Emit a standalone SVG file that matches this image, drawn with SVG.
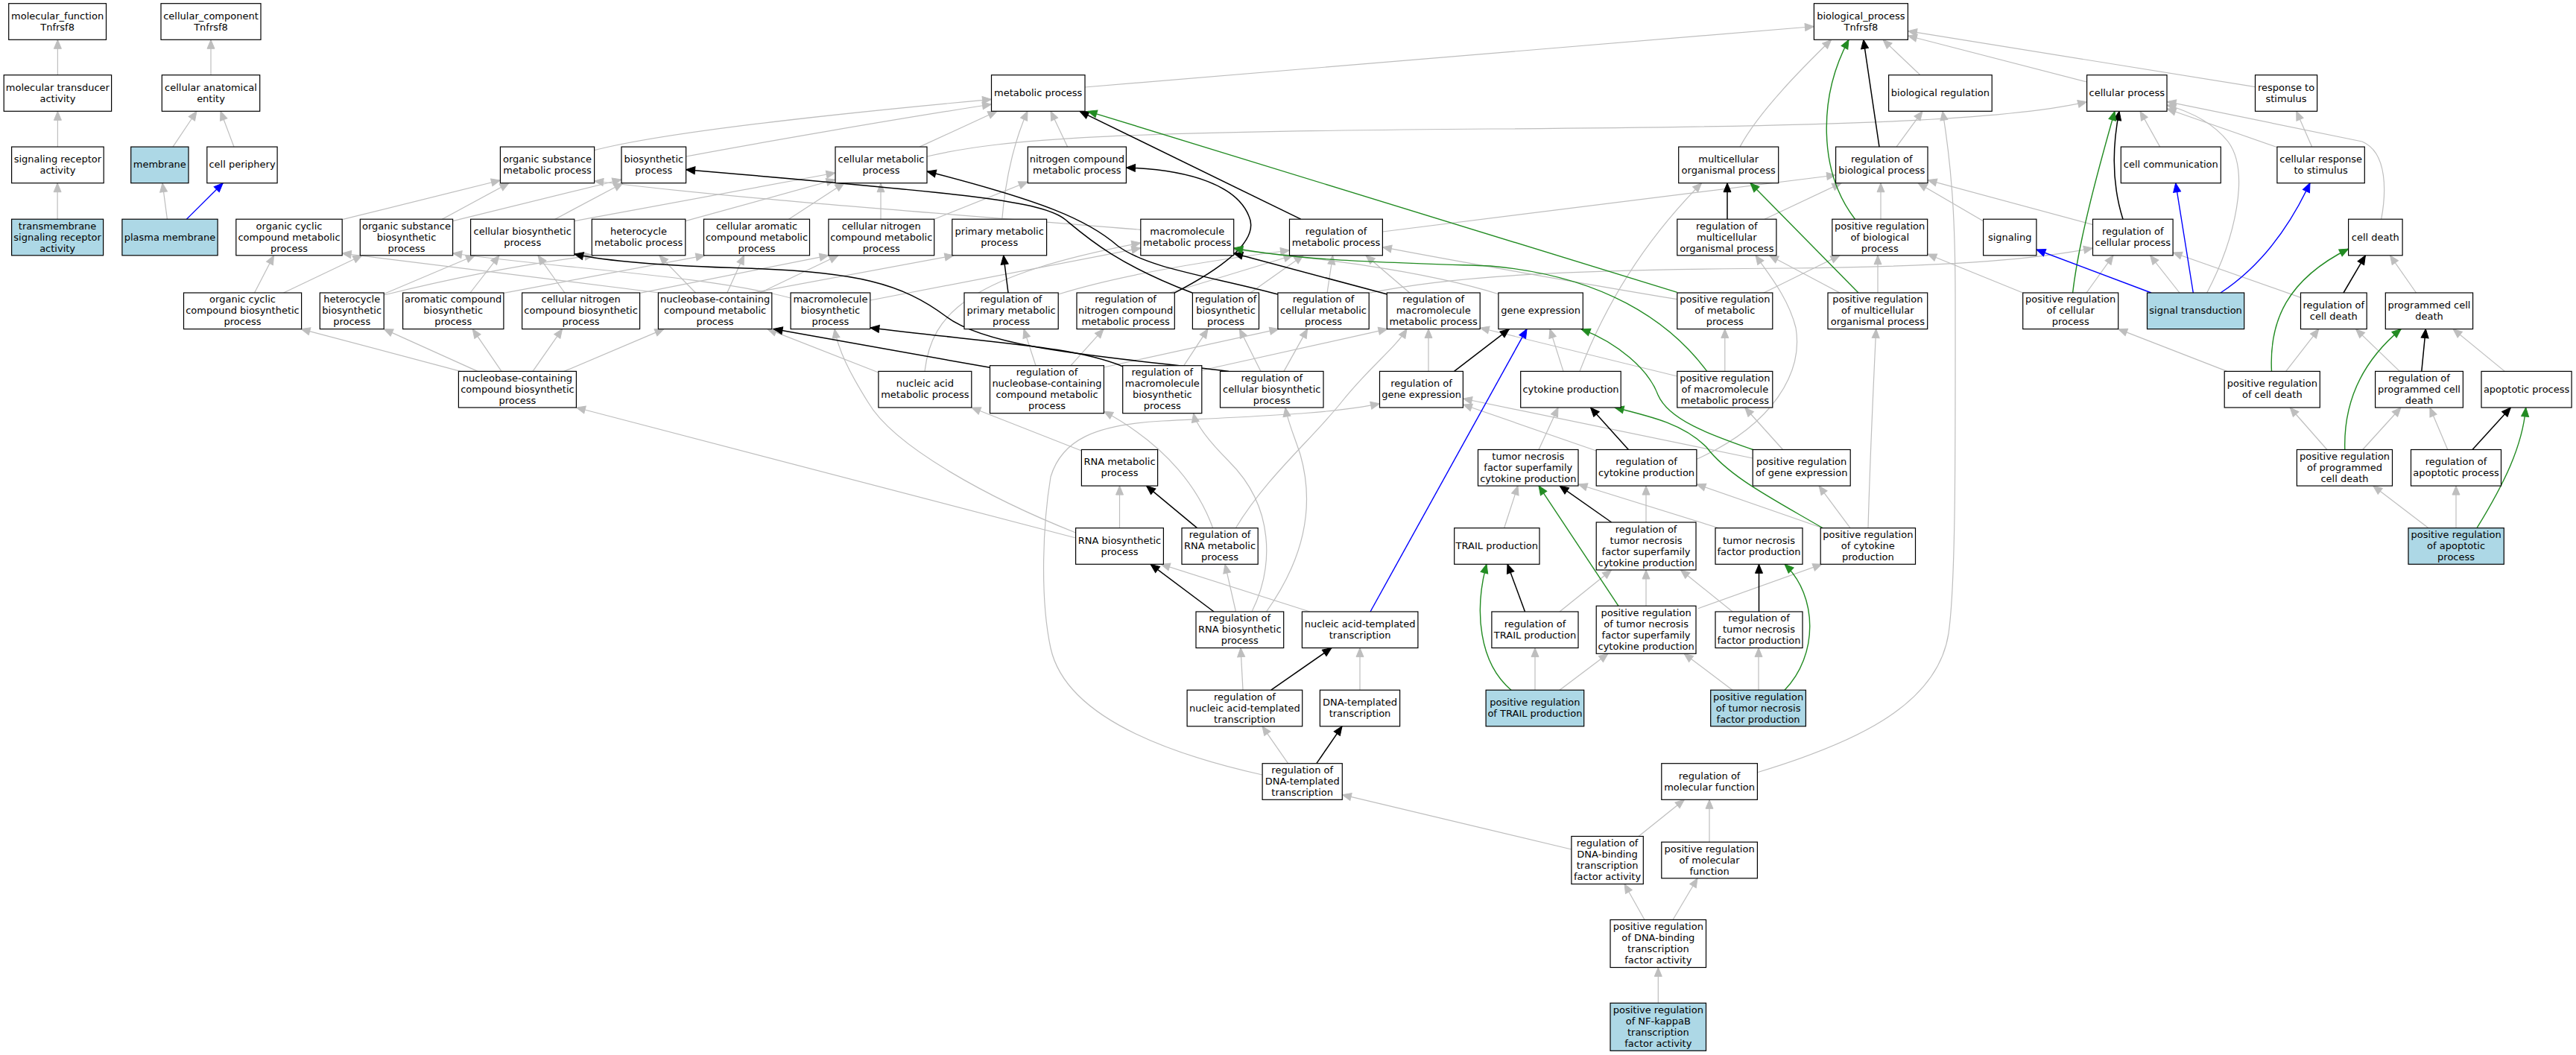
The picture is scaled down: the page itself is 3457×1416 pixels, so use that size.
<svg xmlns="http://www.w3.org/2000/svg" width="3457" height="1416" viewBox="0 0 3457 1416">
<style>
rect{fill:#fff;stroke:#000;stroke-width:1.2}
.b rect{fill:#add8e6}
text{font-family:"DejaVu Sans","Liberation Sans",sans-serif;font-size:13px;text-anchor:middle;fill:#000}
#edges path{fill:none}
.g{stroke:#bebebe;stroke-width:1.2;marker-end:url(#ag)}
.k{stroke:#000;stroke-width:1.5;marker-end:url(#ak)}
.v{stroke:#228b22;stroke-width:1.4;marker-end:url(#av)}
.u{stroke:#0000ff;stroke-width:1.4;marker-end:url(#au)}
</style>
<defs>
<marker id="ag" viewBox="-1 -1 14 12" refX="12" refY="5" markerWidth="14" markerHeight="12" markerUnits="userSpaceOnUse" orient="auto"><path d="M0,0L12,5L0,10z" fill="#bebebe" stroke="#bebebe" stroke-width="1"/></marker>
<marker id="ak" viewBox="-1 -1 14 12" refX="12" refY="5" markerWidth="14" markerHeight="12" markerUnits="userSpaceOnUse" orient="auto"><path d="M0,0L12,5L0,10z" fill="#000" stroke="#000" stroke-width="1"/></marker>
<marker id="av" viewBox="-1 -1 14 12" refX="12" refY="5" markerWidth="14" markerHeight="12" markerUnits="userSpaceOnUse" orient="auto"><path d="M0,0L12,5L0,10z" fill="#228b22" stroke="#228b22" stroke-width="1"/></marker>
<marker id="au" viewBox="-1 -1 14 12" refX="12" refY="5" markerWidth="14" markerHeight="12" markerUnits="userSpaceOnUse" orient="auto"><path d="M0,0L12,5L0,10z" fill="#0000ff" stroke="#0000ff" stroke-width="1"/></marker>
</defs>
<rect x="0" y="0" width="3457" height="1416" style="fill:#fff;stroke:none"/>
<g id="edges">
<path class="g" d="M77.4,100.7L77.4,53.3"/>
<path class="g" d="M77.4,197.1L77.4,149.3"/>
<path class="g" d="M77.1,294.2L77.1,245.7"/>
<path class="g" d="M283,100.7L283,53.3"/>
<path class="g" d="M232,197.1L264,149.3"/>
<path class="g" d="M314,197.1L296,149.3"/>
<path class="g" d="M224.4,294.2L218,245.7"/>
<path class="g" d="M1456,117L2434.4,35.5"/>
<path class="g" d="M797.6,201.7C900,175 1150,150 1330.5,133.3"/>
<path class="g" d="M920.6,210C1000,195 1200,160 1330.5,140"/>
<path class="g" d="M1234,197.1L1338,149.3"/>
<path class="g" d="M1344.8,294.2C1350,230 1365,180 1379,149.3"/>
<path class="g" d="M1432.6,197.1L1410,149.3"/>
<path class="g" d="M1244,210C1350,185 1500,177 2000,173C2500,170 2700,160 2800.6,136.7"/>
<path class="g" d="M459.2,294.7L671.4,242"/>
<path class="g" d="M593.3,294.2L683,245.7"/>
<path class="g" d="M607.6,296.7L834,241"/>
<path class="g" d="M744.8,294.2L836,245.7"/>
<path class="g" d="M770.8,296.7L1121,232"/>
<path class="g" d="M919.8,296.7L1121,241"/>
<path class="g" d="M1058.5,294.2L1133,245.7"/>
<path class="g" d="M1182,294.2L1182,245.7"/>
<path class="g" d="M1253.7,294.2L1379.3,244"/>
<path class="g" d="M1530.8,308.3C1250,285 1000,268 797.6,243"/>
<path class="g" d="M1855.4,311L2463.6,235"/>
<path class="g" d="M2577,100.7L2527,53.3"/>
<path class="g" d="M2800.6,110L2560.4,48"/>
<path class="g" d="M3026.5,116.6L2560.4,41.7"/>
<path class="g" d="M2335,197.1C2360,150 2420,90 2457.6,53.3"/>
<path class="g" d="M2545,197.1L2580,149.3"/>
<path class="g" d="M2524,294.2L2524,245.7"/>
<path class="g" d="M2368,294.2L2471,245.7"/>
<path class="g" d="M2661.6,296.7L2574,245.7"/>
<path class="g" d="M2809,301.7L2587,241.7"/>
<path class="g" d="M2898.7,197.1L2872,149.3"/>
<path class="g" d="M3102.6,197.1L3081.7,149.3"/>
<path class="g" d="M3056,197.7L2908,146"/>
<path class="g" d="M3195.7,294.2C3202,260 3205,205 3170,190L2908,136.4"/>
<path class="g" d="M2961.7,393C3000,320 3020,230 2990,190C2970,165 2940,150 2908,141"/>
<path class="g" d="M2925,393L2885.5,342.8"/>
<path class="g" d="M3087.5,399.4L2916.1,339"/>
<path class="g" d="M3242.5,393L3207.5,342.8"/>
<path class="g" d="M2714.7,393L2586.7,341"/>
<path class="g" d="M2800,393L2836,342.8"/>
<path class="g" d="M2469,393L2374.4,342.8"/>
<path class="g" d="M2520,393L2520,342.8"/>
<path class="g" d="M2367,393L2469,342.8"/>
<path class="g" d="M2250.8,401.7C2150,385 1950,350 1855.4,331.7"/>
<path class="g" d="M1837.2,393.3C1950,370 2100,362 2400,360C2600,358 2720,350 2808.5,333"/>
<path class="g" d="M2012,395C1900,360 1750,345 1655.7,335"/>
<path class="g" d="M1420.2,395C1500,370 1620,350 1730.5,336"/>
<path class="g" d="M1570,393L1735,342.8"/>
<path class="g" d="M1678,393L1749,342.8"/>
<path class="g" d="M1781,393.3L1788.6,342.8"/>
<path class="g" d="M1892,393.3L1833,342.8"/>
<path class="g" d="M1168,403L1530.8,333"/>
<path class="g" d="M1241,498.4C1250,420 1300,370 1530.8,326"/>
<path class="g" d="M1179,500L1030,441.6"/>
<path class="g" d="M1010,393L1280,342.8"/>
<path class="g" d="M1020,393L1125,342.8"/>
<path class="g" d="M858.6,393.3L1112,342.8"/>
<path class="g" d="M975.8,393L998.5,342.8"/>
<path class="g" d="M933.5,393L884.7,342.8"/>
<path class="g" d="M884.7,393L459.2,340"/>
<path class="g" d="M341.5,393L367.5,342.8"/>
<path class="g" d="M380.5,393L486,342.8"/>
<path class="g" d="M514,395L637.5,342.8"/>
<path class="g" d="M515.2,396C620,370 720,352 797,342.8"/>
<path class="g" d="M631,393L670,342.8"/>
<path class="g" d="M675.9,393.3L946,342.8"/>
<path class="g" d="M757.8,393L722,342.8"/>
<path class="g" d="M1061,400C950,370 750,360 607.6,340"/>
<path class="g" d="M618,498.4L404,441.6"/>
<path class="g" d="M641,498.4L515.2,441.6"/>
<path class="g" d="M673,498.4L634.2,441.6"/>
<path class="g" d="M715,498.4L754.6,441.6"/>
<path class="g" d="M757,498.4L891,441.6"/>
<path class="g" d="M1443.6,722L773.4,547"/>
<path class="g" d="M1443.6,715C1330,670 1200,600 1165,540C1140,500 1125,470 1120,441.6"/>
<path class="g" d="M1451.4,605L1303.8,547"/>
<path class="g" d="M1502.5,708.7L1502.5,652.1"/>
<path class="g" d="M1627.7,708.7C1610,660 1570,600 1481.4,552"/>
<path class="g" d="M1658.3,708.7C1700,640 1760,590 1800,540C1840,490 1870,470 1888,441.6"/>
<path class="g" d="M1658.5,821L1644,757.3"/>
<path class="g" d="M1680,821C1710,760 1710,680 1650,620C1620,590 1605,570 1601.7,554.7"/>
<path class="g" d="M1699.5,821C1750,750 1765,680 1745,610C1735,580 1728,565 1725,547"/>
<path class="g" d="M1757.8,821L1558,757.3"/>
<path class="g" d="M1668,926.2L1665,869.6"/>
<path class="g" d="M1825,926.2L1825,869.6"/>
<path class="g" d="M1728.6,1024.7L1694,974.8"/>
<path class="g" d="M1694,1040C1560,1010 1430,960 1410,870C1395,800 1400,700 1410,640C1425,590 1470,570 1560,565C1700,558 1790,555 1851.5,541.7"/>
<path class="g" d="M2108.9,1140L1801.3,1066.7"/>
<path class="g" d="M2199,1122.5L2260.4,1073.3"/>
<path class="g" d="M2294,1130.2L2294,1073.3"/>
<path class="g" d="M2207,1234.5L2180,1186.5"/>
<path class="g" d="M2245,1234.5L2278,1178.8"/>
<path class="g" d="M2225.3,1346.3L2225.3,1298.5"/>
<path class="g" d="M2358.4,1036.7C2480,1000 2600,950 2615,850C2625,780 2624,600 2624,400C2624,300 2620,230 2607,149.3"/>
<path class="g" d="M1917,498.4L1917,441.6"/>
<path class="g" d="M1390,490.7L1374,441.6"/>
<path class="g" d="M1437,490.7L1481,441.6"/>
<path class="g" d="M1481.4,493L1716,441.6"/>
<path class="g" d="M1588.8,490.7L1621,441.6"/>
<path class="g" d="M1612.8,497L1862,441.6"/>
<path class="g" d="M1692,498.4L1663.5,441.6"/>
<path class="g" d="M1723,498.4L1754.6,441.6"/>
<path class="g" d="M2098,498.4L2080,441.6"/>
<path class="g" d="M2120,498.4C2150,420 2200,330 2283.6,245.7"/>
<path class="g" d="M2314.8,498.4L2314.8,441.6"/>
<path class="g" d="M2250.8,505L1986.2,440"/>
<path class="g" d="M2065,603.5L2091,547"/>
<path class="g" d="M2142.2,605L1963.4,543"/>
<path class="g" d="M2276,616.7C2380,570 2420,500 2410,440C2400,400 2375,370 2356,342.8"/>
<path class="g" d="M2352.2,615L1963.4,535"/>
<path class="g" d="M2392.6,603.5L2341.7,547"/>
<path class="g" d="M2209,701L2209,652.1"/>
<path class="g" d="M2018.6,708.7L2037,652.1"/>
<path class="g" d="M2306.6,708.7L2118,650"/>
<path class="g" d="M2446,708.7L2276.9,650"/>
<path class="g" d="M2483,708.7L2441,652.1"/>
<path class="g" d="M2507,708.7C2510,600 2515,500 2517.7,441.6"/>
<path class="g" d="M2093,821L2162.6,765"/>
<path class="g" d="M2209,813.3L2209,765"/>
<path class="g" d="M2278.8,816.7L2445,757.3"/>
<path class="g" d="M2325,821L2255.5,765"/>
<path class="g" d="M2060,926.2L2060,869.6"/>
<path class="g" d="M2093,926.2L2158,877.3"/>
<path class="g" d="M2360,926.2L2360,869.6"/>
<path class="g" d="M2325,926.2L2260,877.3"/>
<path class="g" d="M2988.8,498.4L2842.7,441.6"/>
<path class="g" d="M3067.7,498.4L3111.8,441.6"/>
<path class="g" d="M3220.4,498.4L3161.5,441.6"/>
<path class="g" d="M3361.3,498.4L3292,441.6"/>
<path class="g" d="M3122.9,603.5L3073.2,547"/>
<path class="g" d="M3170.7,603.5L3222,547"/>
<path class="g" d="M3284.8,603.5L3260.9,547"/>
<path class="g" d="M3259,708.7L3184.7,652.1"/>
<path class="g" d="M3296,708.7L3296,652.1"/>
<path class="k" d="M2522,197.1L2500.8,53.3"/>
<path class="k" d="M2318,294.2L2318,245.7"/>
<path class="k" d="M2849,294.2C2835,250 2834,200 2844,149.3"/>
<path class="k" d="M3145,393L3174.4,342.8"/>
<path class="k" d="M1745.7,294.2L1449,149.3"/>
<path class="k" d="M1353,393L1346.7,342.8"/>
<path class="k" d="M1575.7,393.3C1650,355 1690,320 1676,290C1660,250 1600,228 1511.4,225"/>
<path class="k" d="M1600,393C1500,355 1460,320 1430,295C1400,270 1300,260 920.6,227.7"/>
<path class="k" d="M1714.9,395C1620,370 1540,360 1500,330C1460,295 1400,270 1244,230"/>
<path class="k" d="M1861.8,395L1655.7,340"/>
<path class="k" d="M1328.5,493.3L1038,441.6"/>
<path class="k" d="M1506.7,491.7C1440,465 1350,462 1167.8,440"/>
<path class="k" d="M1649,498.4C1500,480 1330,470 1270,425C1210,380 1150,365 1000,360C900,357 820,352 770.8,341"/>
<path class="k" d="M1951.5,498.4L2025.4,441.6"/>
<path class="k" d="M2185.4,603.5L2134.5,547"/>
<path class="k" d="M1629,821L1544,757.3"/>
<path class="k" d="M1606.5,708.7L1538.5,652.1"/>
<path class="k" d="M1705.8,926.2L1787,869.6"/>
<path class="k" d="M1766.8,1024.7L1801,974.8"/>
<path class="k" d="M2162.6,701L2093,652.1"/>
<path class="k" d="M2046.5,821L2023,757.3"/>
<path class="k" d="M2360.5,821L2360.5,757.3"/>
<path class="k" d="M3249.8,498.4L3255.3,441.6"/>
<path class="k" d="M3318,603.5L3369.4,547"/>
<path class="v" d="M2250.8,392.3L1460,149.3"/>
<path class="v" d="M2489.5,294.2C2440,230 2440,130 2481,53.3"/>
<path class="v" d="M2781.6,393C2790,320 2818,220 2838,149.3"/>
<path class="v" d="M2494,393L2349,245.7"/>
<path class="v" d="M2290.8,498.4C2240,430 2150,370 2000,357C1850,352 1750,350 1655.7,333"/>
<path class="v" d="M2352.6,603.5C2300,585 2240,565 2225,530C2212,495 2170,460 2122,441.6"/>
<path class="v" d="M2446,708.7C2380,670 2320,640 2290,600C2260,570 2220,560 2167,547"/>
<path class="v" d="M2172,813.3L2065,652.1"/>
<path class="v" d="M2028,926.2C1985,890 1978,820 1995,757.3"/>
<path class="v" d="M2395,926.2C2440,880 2440,800 2395,757.3"/>
<path class="v" d="M3048.5,498.4C3045,430 3070,375 3151.6,334"/>
<path class="v" d="M3146.8,603.5C3145,540 3170,485 3222.2,441.6"/>
<path class="v" d="M3324,708.7C3360,650 3385,600 3389.7,547"/>
<path class="u" d="M250.4,294.2L299.2,245.7"/>
<path class="u" d="M2943.3,393L2919.7,245.7"/>
<path class="u" d="M2980,393C3030,360 3070,310 3100,245.7"/>
<path class="u" d="M2887,393L2732.9,335"/>
<path class="u" d="M1839,821L2049,441.6"/>
</g>
<g id="n1"><rect x="11.7" y="4.7" width="130.8" height="48.6"/><text x="77.1" y="25.5"><tspan x="77.1">molecular_function</tspan><tspan x="77.1" dy="15">Tnfrsf8</tspan></text></g>
<g id="n2"><rect x="216" y="4.7" width="134" height="48.6"/><text x="283" y="25.5"><tspan x="283">cellular_component</tspan><tspan x="283" dy="15">Tnfrsf8</tspan></text></g>
<g id="n3"><rect x="2434.4" y="4.7" width="126" height="48.6"/><text x="2497.4" y="25.5"><tspan x="2497.4">biological_process</tspan><tspan x="2497.4" dy="15">Tnfrsf8</tspan></text></g>
<g id="n4"><rect x="5.2" y="100.7" width="144.4" height="48.6"/><text x="77.4" y="121.5"><tspan x="77.4">molecular transducer</tspan><tspan x="77.4" dy="15">activity</tspan></text></g>
<g id="n5"><rect x="217.3" y="100.7" width="131.4" height="48.6"/><text x="283" y="121.5"><tspan x="283">cellular anatomical</tspan><tspan x="283" dy="15">entity</tspan></text></g>
<g id="n6"><rect x="1330.5" y="100.7" width="125.5" height="48.6"/><text x="1393.2" y="129">metabolic process</text></g>
<g id="n7"><rect x="2534.6" y="100.7" width="138.6" height="48.6"/><text x="2603.9" y="129">biological regulation</text></g>
<g id="n8"><rect x="2800.6" y="100.7" width="107.4" height="48.6"/><text x="2854.3" y="129">cellular process</text></g>
<g id="n9"><rect x="3026.5" y="100.7" width="83.1" height="48.6"/><text x="3068" y="121.5"><tspan x="3068">response to</tspan><tspan x="3068" dy="15">stimulus</tspan></text></g>
<g id="n10"><rect x="15.6" y="197.1" width="123.6" height="48.6"/><text x="77.4" y="217.9"><tspan x="77.4">signaling receptor</tspan><tspan x="77.4" dy="15">activity</tspan></text></g>
<g id="n11" class="b"><rect x="175.7" y="197.1" width="77.3" height="48.6"/><text x="214.3" y="225.4">membrane</text></g>
<g id="n12"><rect x="277.8" y="197.1" width="94.3" height="48.6"/><text x="325" y="225.4">cell periphery</text></g>
<g id="n13"><rect x="671.4" y="197.1" width="126.2" height="48.6"/><text x="734.5" y="217.9"><tspan x="734.5">organic substance</tspan><tspan x="734.5" dy="15">metabolic process</tspan></text></g>
<g id="n14"><rect x="834" y="197.1" width="86.6" height="48.6"/><text x="877.3" y="217.9"><tspan x="877.3">biosynthetic</tspan><tspan x="877.3" dy="15">process</tspan></text></g>
<g id="n15"><rect x="1121" y="197.1" width="123" height="48.6"/><text x="1182.5" y="217.9"><tspan x="1182.5">cellular metabolic</tspan><tspan x="1182.5" dy="15">process</tspan></text></g>
<g id="n16"><rect x="1379.3" y="197.1" width="132.1" height="48.6"/><text x="1445.3" y="217.9"><tspan x="1445.3">nitrogen compound</tspan><tspan x="1445.3" dy="15">metabolic process</tspan></text></g>
<g id="n17"><rect x="2252.7" y="197.1" width="134" height="48.6"/><text x="2319.7" y="217.9"><tspan x="2319.7">multicellular</tspan><tspan x="2319.7" dy="15">organismal process</tspan></text></g>
<g id="n18"><rect x="2463.6" y="197.1" width="123.4" height="48.6"/><text x="2525.3" y="217.9"><tspan x="2525.3">regulation of</tspan><tspan x="2525.3" dy="15">biological process</tspan></text></g>
<g id="n19"><rect x="2846.3" y="197.1" width="134" height="48.6"/><text x="2913.3" y="225.4">cell communication</text></g>
<g id="n20"><rect x="3055.9" y="197.1" width="117.4" height="48.6"/><text x="3114.6" y="217.9"><tspan x="3114.6">cellular response</tspan><tspan x="3114.6" dy="15">to stimulus</tspan></text></g>
<g id="n21" class="b"><rect x="15.6" y="294.2" width="123" height="48.6"/><text x="77.1" y="307.5"><tspan x="77.1">transmembrane</tspan><tspan x="77.1" dy="15">signaling receptor</tspan><tspan x="77.1" dy="15">activity</tspan></text></g>
<g id="n22" class="b"><rect x="163.9" y="294.2" width="128.2" height="48.6"/><text x="228" y="322.5">plasma membrane</text></g>
<g id="n23"><rect x="316.8" y="294.2" width="142.4" height="48.6"/><text x="388" y="307.5"><tspan x="388">organic cyclic</tspan><tspan x="388" dy="15">compound metabolic</tspan><tspan x="388" dy="15">process</tspan></text></g>
<g id="n24"><rect x="483.3" y="294.2" width="124.3" height="48.6"/><text x="545.5" y="307.5"><tspan x="545.5">organic substance</tspan><tspan x="545.5" dy="15">biosynthetic</tspan><tspan x="545.5" dy="15">process</tspan></text></g>
<g id="n25"><rect x="631.6" y="294.2" width="139.2" height="48.6"/><text x="701.2" y="315"><tspan x="701.2">cellular biosynthetic</tspan><tspan x="701.2" dy="15">process</tspan></text></g>
<g id="n26"><rect x="794.3" y="294.2" width="125.5" height="48.6"/><text x="857" y="315"><tspan x="857">heterocycle</tspan><tspan x="857" dy="15">metabolic process</tspan></text></g>
<g id="n27"><rect x="944.5" y="294.2" width="142" height="48.6"/><text x="1015.5" y="307.5"><tspan x="1015.5">cellular aromatic</tspan><tspan x="1015.5" dy="15">compound metabolic</tspan><tspan x="1015.5" dy="15">process</tspan></text></g>
<g id="n28"><rect x="1111.9" y="294.2" width="141.8" height="48.6"/><text x="1182.8" y="307.5"><tspan x="1182.8">cellular nitrogen</tspan><tspan x="1182.8" dy="15">compound metabolic</tspan><tspan x="1182.8" dy="15">process</tspan></text></g>
<g id="n29"><rect x="1277.8" y="294.2" width="126.8" height="48.6"/><text x="1341.2" y="315"><tspan x="1341.2">primary metabolic</tspan><tspan x="1341.2" dy="15">process</tspan></text></g>
<g id="n30"><rect x="1530.8" y="294.2" width="124.9" height="48.6"/><text x="1593.2" y="315"><tspan x="1593.2">macromolecule</tspan><tspan x="1593.2" dy="15">metabolic process</tspan></text></g>
<g id="n31"><rect x="1730.5" y="294.2" width="124.9" height="48.6"/><text x="1793" y="315"><tspan x="1793">regulation of</tspan><tspan x="1793" dy="15">metabolic process</tspan></text></g>
<g id="n32"><rect x="2250.8" y="294.2" width="133.1" height="48.6"/><text x="2317.3" y="307.5"><tspan x="2317.3">regulation of</tspan><tspan x="2317.3" dy="15">multicellular</tspan><tspan x="2317.3" dy="15">organismal process</tspan></text></g>
<g id="n33"><rect x="2458.8" y="294.2" width="127.9" height="48.6"/><text x="2522.7" y="307.5"><tspan x="2522.7">positive regulation</tspan><tspan x="2522.7" dy="15">of biological</tspan><tspan x="2522.7" dy="15">process</tspan></text></g>
<g id="n34"><rect x="2661.6" y="294.2" width="71.3" height="48.6"/><text x="2697.2" y="322.5">signaling</text></g>
<g id="n35"><rect x="2808.5" y="294.2" width="107.6" height="48.6"/><text x="2862.3" y="315"><tspan x="2862.3">regulation of</tspan><tspan x="2862.3" dy="15">cellular process</tspan></text></g>
<g id="n36"><rect x="3151.6" y="294.2" width="72.5" height="48.6"/><text x="3187.8" y="322.5">cell death</text></g>
<g id="n37"><rect x="246.5" y="393" width="158.1" height="48.6"/><text x="325.5" y="406.3"><tspan x="325.5">organic cyclic</tspan><tspan x="325.5" dy="15">compound biosynthetic</tspan><tspan x="325.5" dy="15">process</tspan></text></g>
<g id="n38"><rect x="429.3" y="393" width="85.9" height="48.6"/><text x="472.2" y="406.3"><tspan x="472.2">heterocycle</tspan><tspan x="472.2" dy="15">biosynthetic</tspan><tspan x="472.2" dy="15">process</tspan></text></g>
<g id="n39"><rect x="540.6" y="393" width="135.3" height="48.6"/><text x="608.2" y="406.3"><tspan x="608.2">aromatic compound</tspan><tspan x="608.2" dy="15">biosynthetic</tspan><tspan x="608.2" dy="15">process</tspan></text></g>
<g id="n40"><rect x="700.6" y="393" width="158" height="48.6"/><text x="779.6" y="406.3"><tspan x="779.6">cellular nitrogen</tspan><tspan x="779.6" dy="15">compound biosynthetic</tspan><tspan x="779.6" dy="15">process</tspan></text></g>
<g id="n41"><rect x="883.4" y="393" width="152.4" height="48.6"/><text x="959.6" y="406.3"><tspan x="959.6">nucleobase-containing</tspan><tspan x="959.6" dy="15">compound metabolic</tspan><tspan x="959.6" dy="15">process</tspan></text></g>
<g id="n42"><rect x="1061.1" y="393" width="106.7" height="48.6"/><text x="1114.4" y="406.3"><tspan x="1114.4">macromolecule</tspan><tspan x="1114.4" dy="15">biosynthetic</tspan><tspan x="1114.4" dy="15">process</tspan></text></g>
<g id="n43"><rect x="1294" y="393" width="126.2" height="48.6"/><text x="1357.1" y="406.3"><tspan x="1357.1">regulation of</tspan><tspan x="1357.1" dy="15">primary metabolic</tspan><tspan x="1357.1" dy="15">process</tspan></text></g>
<g id="n44"><rect x="1445" y="393" width="131.3" height="48.6"/><text x="1510.6" y="406.3"><tspan x="1510.6">regulation of</tspan><tspan x="1510.6" dy="15">nitrogen compound</tspan><tspan x="1510.6" dy="15">metabolic process</tspan></text></g>
<g id="n45"><rect x="1600.4" y="393" width="89.1" height="48.6"/><text x="1645" y="406.3"><tspan x="1645">regulation of</tspan><tspan x="1645" dy="15">biosynthetic</tspan><tspan x="1645" dy="15">process</tspan></text></g>
<g id="n46"><rect x="1714.9" y="393" width="122.3" height="48.6"/><text x="1776" y="406.3"><tspan x="1776">regulation of</tspan><tspan x="1776" dy="15">cellular metabolic</tspan><tspan x="1776" dy="15">process</tspan></text></g>
<g id="n47"><rect x="1861.3" y="393" width="124.9" height="48.6"/><text x="1923.7" y="406.3"><tspan x="1923.7">regulation of</tspan><tspan x="1923.7" dy="15">macromolecule</tspan><tspan x="1923.7" dy="15">metabolic process</tspan></text></g>
<g id="n48"><rect x="2010.9" y="393" width="113.4" height="48.6"/><text x="2067.6" y="421.3">gene expression</text></g>
<g id="n49"><rect x="2250.8" y="393" width="128" height="48.6"/><text x="2314.8" y="406.3"><tspan x="2314.8">positive regulation</tspan><tspan x="2314.8" dy="15">of metabolic</tspan><tspan x="2314.8" dy="15">process</tspan></text></g>
<g id="n50"><rect x="2453" y="393" width="133.7" height="48.6"/><text x="2519.8" y="406.3"><tspan x="2519.8">positive regulation</tspan><tspan x="2519.8" dy="15">of multicellular</tspan><tspan x="2519.8" dy="15">organismal process</tspan></text></g>
<g id="n51"><rect x="2714.7" y="393" width="128" height="48.6"/><text x="2778.7" y="406.3"><tspan x="2778.7">positive regulation</tspan><tspan x="2778.7" dy="15">of cellular</tspan><tspan x="2778.7" dy="15">process</tspan></text></g>
<g id="n52" class="b"><rect x="2881.5" y="393" width="130.2" height="48.6"/><text x="2946.6" y="421.3">signal transduction</text></g>
<g id="n53"><rect x="3087.5" y="393" width="88.7" height="48.6"/><text x="3131.8" y="413.8"><tspan x="3131.8">regulation of</tspan><tspan x="3131.8" dy="15">cell death</tspan></text></g>
<g id="n54"><rect x="3201.3" y="393" width="117.3" height="48.6"/><text x="3260" y="413.8"><tspan x="3260">programmed cell</tspan><tspan x="3260" dy="15">death</tspan></text></g>
<g id="n55"><rect x="615.4" y="498.4" width="158" height="48.6"/><text x="694.4" y="511.7"><tspan x="694.4">nucleobase-containing</tspan><tspan x="694.4" dy="15">compound biosynthetic</tspan><tspan x="694.4" dy="15">process</tspan></text></g>
<g id="n56"><rect x="1178.9" y="498.4" width="124.9" height="48.6"/><text x="1241.4" y="519.2"><tspan x="1241.4">nucleic acid</tspan><tspan x="1241.4" dy="15">metabolic process</tspan></text></g>
<g id="n57"><rect x="1328.5" y="490.7" width="152.9" height="64"/><text x="1405" y="504.2"><tspan x="1405">regulation of</tspan><tspan x="1405" dy="15">nucleobase-containing</tspan><tspan x="1405" dy="15">compound metabolic</tspan><tspan x="1405" dy="15">process</tspan></text></g>
<g id="n58"><rect x="1506.7" y="490.7" width="106.1" height="64"/><text x="1559.8" y="504.2"><tspan x="1559.8">regulation of</tspan><tspan x="1559.8" dy="15">macromolecule</tspan><tspan x="1559.8" dy="15">biosynthetic</tspan><tspan x="1559.8" dy="15">process</tspan></text></g>
<g id="n59"><rect x="1637.5" y="498.4" width="138.5" height="48.6"/><text x="1706.8" y="511.7"><tspan x="1706.8">regulation of</tspan><tspan x="1706.8" dy="15">cellular biosynthetic</tspan><tspan x="1706.8" dy="15">process</tspan></text></g>
<g id="n60"><rect x="1851.5" y="498.4" width="111.9" height="48.6"/><text x="1907.5" y="519.2"><tspan x="1907.5">regulation of</tspan><tspan x="1907.5" dy="15">gene expression</tspan></text></g>
<g id="n61"><rect x="2040.7" y="498.4" width="134.5" height="48.6"/><text x="2108" y="526.7">cytokine production</text></g>
<g id="n62"><rect x="2250.8" y="498.4" width="128" height="48.6"/><text x="2314.8" y="511.7"><tspan x="2314.8">positive regulation</tspan><tspan x="2314.8" dy="15">of macromolecule</tspan><tspan x="2314.8" dy="15">metabolic process</tspan></text></g>
<g id="n63"><rect x="2985.2" y="498.4" width="128.1" height="48.6"/><text x="3049.3" y="519.2"><tspan x="3049.3">positive regulation</tspan><tspan x="3049.3" dy="15">of cell death</tspan></text></g>
<g id="n64"><rect x="3187.6" y="498.4" width="117.8" height="48.6"/><text x="3246.5" y="511.7"><tspan x="3246.5">regulation of</tspan><tspan x="3246.5" dy="15">programmed cell</tspan><tspan x="3246.5" dy="15">death</tspan></text></g>
<g id="n65"><rect x="3330" y="498.4" width="121.1" height="48.6"/><text x="3390.6" y="526.7">apoptotic process</text></g>
<g id="n66"><rect x="1451.4" y="603.5" width="102.2" height="48.6"/><text x="1502.5" y="624.3"><tspan x="1502.5">RNA metabolic</tspan><tspan x="1502.5" dy="15">process</tspan></text></g>
<g id="n67"><rect x="1983.5" y="603.5" width="134.5" height="48.6"/><text x="2050.8" y="616.8"><tspan x="2050.8">tumor necrosis</tspan><tspan x="2050.8" dy="15">factor superfamily</tspan><tspan x="2050.8" dy="15">cytokine production</tspan></text></g>
<g id="n68"><rect x="2142.2" y="603.5" width="134.7" height="48.6"/><text x="2209.5" y="624.3"><tspan x="2209.5">regulation of</tspan><tspan x="2209.5" dy="15">cytokine production</tspan></text></g>
<g id="n69"><rect x="2352.2" y="603.5" width="131" height="48.6"/><text x="2417.7" y="624.3"><tspan x="2417.7">positive regulation</tspan><tspan x="2417.7" dy="15">of gene expression</tspan></text></g>
<g id="n70"><rect x="3082.4" y="603.5" width="128.1" height="48.6"/><text x="3146.5" y="616.8"><tspan x="3146.5">positive regulation</tspan><tspan x="3146.5" dy="15">of programmed</tspan><tspan x="3146.5" dy="15">cell death</tspan></text></g>
<g id="n71"><rect x="3235.5" y="603.5" width="121" height="48.6"/><text x="3296" y="624.3"><tspan x="3296">regulation of</tspan><tspan x="3296" dy="15">apoptotic process</tspan></text></g>
<g id="n72"><rect x="1443.6" y="708.7" width="117.8" height="48.6"/><text x="1502.5" y="729.5"><tspan x="1502.5">RNA biosynthetic</tspan><tspan x="1502.5" dy="15">process</tspan></text></g>
<g id="n73"><rect x="1586" y="708.7" width="102.2" height="48.6"/><text x="1637.1" y="722"><tspan x="1637.1">regulation of</tspan><tspan x="1637.1" dy="15">RNA metabolic</tspan><tspan x="1637.1" dy="15">process</tspan></text></g>
<g id="n74"><rect x="1951.7" y="708.7" width="114.3" height="48.6"/><text x="2008.8" y="737">TRAIL production</text></g>
<g id="n75"><rect x="2142.2" y="701" width="133.8" height="64"/><text x="2209.1" y="714.5"><tspan x="2209.1">regulation of</tspan><tspan x="2209.1" dy="15">tumor necrosis</tspan><tspan x="2209.1" dy="15">factor superfamily</tspan><tspan x="2209.1" dy="15">cytokine production</tspan></text></g>
<g id="n76"><rect x="2302" y="708.7" width="117" height="48.6"/><text x="2360.5" y="729.5"><tspan x="2360.5">tumor necrosis</tspan><tspan x="2360.5" dy="15">factor production</tspan></text></g>
<g id="n77"><rect x="2443.2" y="708.7" width="127.3" height="48.6"/><text x="2506.8" y="722"><tspan x="2506.8">positive regulation</tspan><tspan x="2506.8" dy="15">of cytokine</tspan><tspan x="2506.8" dy="15">production</tspan></text></g>
<g id="n78" class="b"><rect x="3232" y="708.7" width="128.3" height="48.6"/><text x="3296.1" y="722"><tspan x="3296.1">positive regulation</tspan><tspan x="3296.1" dy="15">of apoptotic</tspan><tspan x="3296.1" dy="15">process</tspan></text></g>
<g id="n79"><rect x="1605" y="821" width="117.7" height="48.6"/><text x="1663.8" y="834.3"><tspan x="1663.8">regulation of</tspan><tspan x="1663.8" dy="15">RNA biosynthetic</tspan><tspan x="1663.8" dy="15">process</tspan></text></g>
<g id="n80"><rect x="1747.4" y="821" width="155.5" height="48.6"/><text x="1825.1" y="841.8"><tspan x="1825.1">nucleic acid-templated</tspan><tspan x="1825.1" dy="15">transcription</tspan></text></g>
<g id="n81"><rect x="2001.9" y="821" width="116.1" height="48.6"/><text x="2060" y="841.8"><tspan x="2060">regulation of</tspan><tspan x="2060" dy="15">TRAIL production</tspan></text></g>
<g id="n82"><rect x="2142.2" y="813.3" width="133.8" height="64"/><text x="2209.1" y="826.8"><tspan x="2209.1">positive regulation</tspan><tspan x="2209.1" dy="15">of tumor necrosis</tspan><tspan x="2209.1" dy="15">factor superfamily</tspan><tspan x="2209.1" dy="15">cytokine production</tspan></text></g>
<g id="n83"><rect x="2302" y="821" width="117" height="48.6"/><text x="2360.5" y="834.3"><tspan x="2360.5">regulation of</tspan><tspan x="2360.5" dy="15">tumor necrosis</tspan><tspan x="2360.5" dy="15">factor production</tspan></text></g>
<g id="n84"><rect x="1593.1" y="926.2" width="154.6" height="48.6"/><text x="1670.4" y="939.5"><tspan x="1670.4">regulation of</tspan><tspan x="1670.4" dy="15">nucleic acid-templated</tspan><tspan x="1670.4" dy="15">transcription</tspan></text></g>
<g id="n85"><rect x="1771.4" y="926.2" width="107.2" height="48.6"/><text x="1825" y="947"><tspan x="1825">DNA-templated</tspan><tspan x="1825" dy="15">transcription</tspan></text></g>
<g id="n86" class="b"><rect x="1994.1" y="926.2" width="131.6" height="48.6"/><text x="2059.9" y="947"><tspan x="2059.9">positive regulation</tspan><tspan x="2059.9" dy="15">of TRAIL production</tspan></text></g>
<g id="n87" class="b"><rect x="2295.7" y="926.2" width="127.7" height="48.6"/><text x="2359.6" y="939.5"><tspan x="2359.6">positive regulation</tspan><tspan x="2359.6" dy="15">of tumor necrosis</tspan><tspan x="2359.6" dy="15">factor production</tspan></text></g>
<g id="n88"><rect x="1694.1" y="1024.7" width="107.2" height="48.6"/><text x="1747.7" y="1038"><tspan x="1747.7">regulation of</tspan><tspan x="1747.7" dy="15">DNA-templated</tspan><tspan x="1747.7" dy="15">transcription</tspan></text></g>
<g id="n89"><rect x="2229.8" y="1024.7" width="128.6" height="48.6"/><text x="2294.1" y="1045.5"><tspan x="2294.1">regulation of</tspan><tspan x="2294.1" dy="15">molecular function</tspan></text></g>
<g id="n90"><rect x="2108.9" y="1122.5" width="96.4" height="64"/><text x="2157.1" y="1136"><tspan x="2157.1">regulation of</tspan><tspan x="2157.1" dy="15">DNA-binding</tspan><tspan x="2157.1" dy="15">transcription</tspan><tspan x="2157.1" dy="15">factor activity</tspan></text></g>
<g id="n91"><rect x="2229.8" y="1130.2" width="128.6" height="48.6"/><text x="2294.1" y="1143.5"><tspan x="2294.1">positive regulation</tspan><tspan x="2294.1" dy="15">of molecular</tspan><tspan x="2294.1" dy="15">function</tspan></text></g>
<g id="n92"><rect x="2161" y="1234.5" width="128.5" height="64"/><text x="2225.3" y="1248"><tspan x="2225.3">positive regulation</tspan><tspan x="2225.3" dy="15">of DNA-binding</tspan><tspan x="2225.3" dy="15">transcription</tspan><tspan x="2225.3" dy="15">factor activity</tspan></text></g>
<g id="n93" class="b"><rect x="2161" y="1346.3" width="128.5" height="64"/><text x="2225.3" y="1359.8"><tspan x="2225.3">positive regulation</tspan><tspan x="2225.3" dy="15">of NF-kappaB</tspan><tspan x="2225.3" dy="15">transcription</tspan><tspan x="2225.3" dy="15">factor activity</tspan></text></g>
</svg>
